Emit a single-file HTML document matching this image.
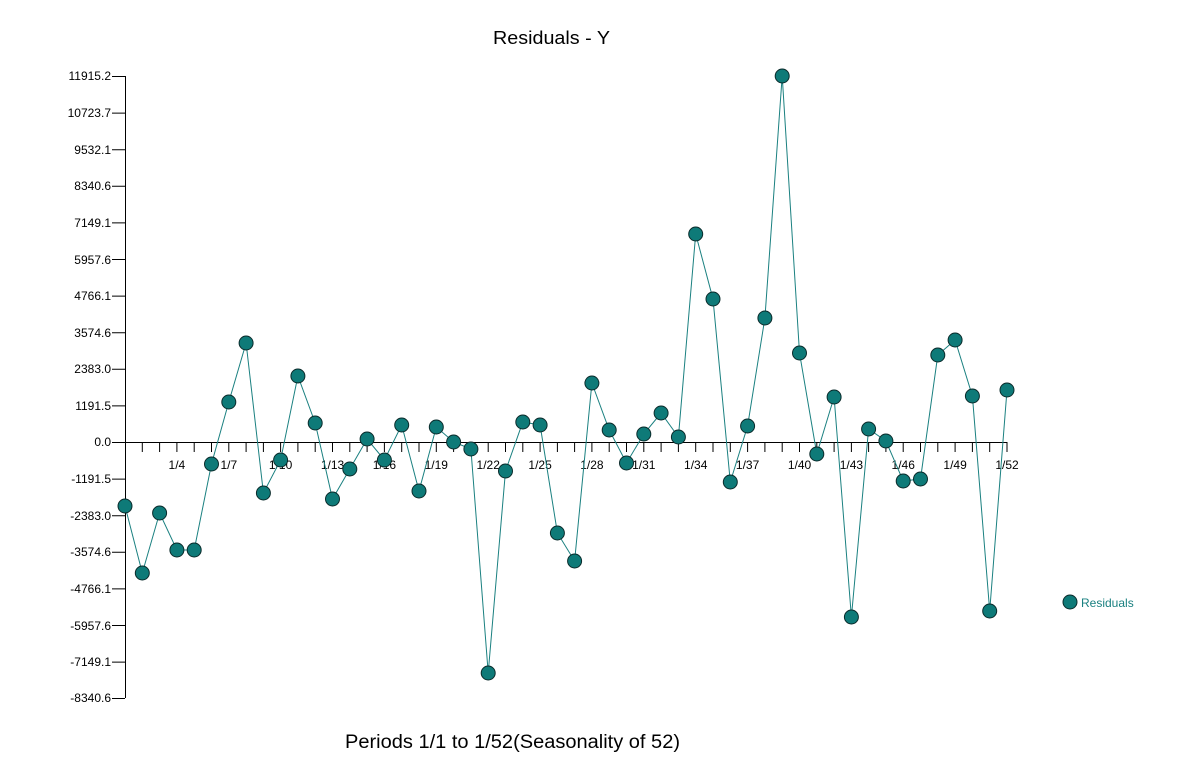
<!DOCTYPE html>
<html><head><meta charset="utf-8"><style>
html,body{margin:0;padding:0;background:#fff;}
svg{display:block;font-family:"Liberation Sans",Arial,sans-serif;}
</style></head><body>
<svg width="1202" height="775" viewBox="0 0 1202 775" xmlns="http://www.w3.org/2000/svg">
<rect width="1202" height="775" fill="#fff"/>
<text x="493" y="44" font-size="18" textLength="117" lengthAdjust="spacingAndGlyphs" fill="#000">Residuals - Y</text>
<text x="345" y="748" font-size="19" textLength="335" lengthAdjust="spacingAndGlyphs" fill="#000">Periods 1/1 to 1/52(Seasonality of 52)</text>
<g stroke="#000" stroke-width="1" fill="none">
<line x1="125.5" y1="76" x2="125.5" y2="698"/>
<line x1="125" y1="442.5" x2="1007" y2="442.5"/>
<path d="M112 76.5H125M112 113.1H125M112 149.7H125M112 186.3H125M112 222.9H125M112 259.5H125M112 296.1H125M112 332.7H125M112 369.3H125M112 405.9H125M112 442.5H125M112 479.1H125M112 515.7H125M112 552.3H125M112 588.9H125M112 625.5H125M112 662.1H125M112 698.5H125"/>
<path d="M142.3 442V452M159.6 442V452M176.9 442V452M194.2 442V452M211.5 442V452M228.8 442V452M246.1 442V452M263.4 442V452M280.6 442V452M297.9 442V452M315.2 442V452M332.5 442V452M349.8 442V452M367.1 442V452M384.4 442V452M401.7 442V452M419 442V452M436.3 442V452M453.6 442V452M470.9 442V452M488.2 442V452M505.5 442V452M522.8 442V452M540.1 442V452M557.4 442V452M574.6 442V452M591.9 442V452M609.2 442V452M626.5 442V452M643.8 442V452M661.1 442V452M678.4 442V452M695.7 442V452M713 442V452M730.3 442V452M747.6 442V452M764.9 442V452M782.2 442V452M799.5 442V452M816.8 442V452M834.1 442V452M851.4 442V452M868.6 442V452M885.9 442V452M903.2 442V452M920.5 442V452M937.8 442V452M955.1 442V452M972.4 442V452M989.7 442V452M1007 442V452"/>
</g>
<g font-size="12" fill="#000" text-anchor="end">
<text x="111" y="80">11915.2</text>
<text x="111" y="117">10723.7</text>
<text x="111" y="154">9532.1</text>
<text x="111" y="190">8340.6</text>
<text x="111" y="227">7149.1</text>
<text x="111" y="264">5957.6</text>
<text x="111" y="300">4766.1</text>
<text x="111" y="337">3574.6</text>
<text x="111" y="373">2383.0</text>
<text x="111" y="410">1191.5</text>
<text x="111" y="446">0.0</text>
<text x="111" y="483">-1191.5</text>
<text x="111" y="520">-2383.0</text>
<text x="111" y="556">-3574.6</text>
<text x="111" y="593">-4766.1</text>
<text x="111" y="630">-5957.6</text>
<text x="111" y="666">-7149.1</text>
<text x="111" y="702">-8340.6</text>
</g>
<g font-size="12" fill="#000" text-anchor="middle">
<text x="176.9" y="469">1/4</text>
<text x="228.8" y="469">1/7</text>
<text x="280.6" y="469">1/10</text>
<text x="332.5" y="469">1/13</text>
<text x="384.4" y="469">1/16</text>
<text x="436.3" y="469">1/19</text>
<text x="488.2" y="469">1/22</text>
<text x="540.1" y="469">1/25</text>
<text x="591.9" y="469">1/28</text>
<text x="643.8" y="469">1/31</text>
<text x="695.7" y="469">1/34</text>
<text x="747.6" y="469">1/37</text>
<text x="799.5" y="469">1/40</text>
<text x="851.4" y="469">1/43</text>
<text x="903.2" y="469">1/46</text>
<text x="955.1" y="469">1/49</text>
<text x="1007" y="469">1/52</text>
</g>
<polyline fill="none" stroke="#1a8080" stroke-width="1" points="125,506 142.3,573 159.6,513 176.9,550 194.2,550 211.5,464 228.8,402 246.1,343 263.4,493 280.6,460 297.9,376 315.2,423 332.5,499 349.8,469 367.1,439 384.4,460 401.7,425 419,491 436.3,427 453.6,442 470.9,449 488.2,673 505.5,471 522.8,422 540.1,425 557.4,533 574.6,561 591.9,383 609.2,430 626.5,463 643.8,434 661.1,413 678.4,437 695.7,234 713,299 730.3,482 747.6,426 764.9,318 782.2,76 799.5,353 816.8,454 834.1,397 851.4,617 868.6,429 885.9,441 903.2,481 920.5,479 937.8,355 955.1,340 972.4,396 989.7,611 1007,390"/>
<g fill="#0e7a78" stroke="#0a2a2a" stroke-width="1">
<circle cx="125" cy="506" r="7"/><circle cx="142.3" cy="573" r="7"/><circle cx="159.6" cy="513" r="7"/><circle cx="176.9" cy="550" r="7"/><circle cx="194.2" cy="550" r="7"/><circle cx="211.5" cy="464" r="7"/><circle cx="228.8" cy="402" r="7"/><circle cx="246.1" cy="343" r="7"/><circle cx="263.4" cy="493" r="7"/><circle cx="280.6" cy="460" r="7"/><circle cx="297.9" cy="376" r="7"/><circle cx="315.2" cy="423" r="7"/><circle cx="332.5" cy="499" r="7"/><circle cx="349.8" cy="469" r="7"/><circle cx="367.1" cy="439" r="7"/><circle cx="384.4" cy="460" r="7"/><circle cx="401.7" cy="425" r="7"/><circle cx="419" cy="491" r="7"/><circle cx="436.3" cy="427" r="7"/><circle cx="453.6" cy="442" r="7"/><circle cx="470.9" cy="449" r="7"/><circle cx="488.2" cy="673" r="7"/><circle cx="505.5" cy="471" r="7"/><circle cx="522.8" cy="422" r="7"/><circle cx="540.1" cy="425" r="7"/><circle cx="557.4" cy="533" r="7"/><circle cx="574.6" cy="561" r="7"/><circle cx="591.9" cy="383" r="7"/><circle cx="609.2" cy="430" r="7"/><circle cx="626.5" cy="463" r="7"/><circle cx="643.8" cy="434" r="7"/><circle cx="661.1" cy="413" r="7"/><circle cx="678.4" cy="437" r="7"/><circle cx="695.7" cy="234" r="7"/><circle cx="713" cy="299" r="7"/><circle cx="730.3" cy="482" r="7"/><circle cx="747.6" cy="426" r="7"/><circle cx="764.9" cy="318" r="7"/><circle cx="782.2" cy="76" r="7"/><circle cx="799.5" cy="353" r="7"/><circle cx="816.8" cy="454" r="7"/><circle cx="834.1" cy="397" r="7"/><circle cx="851.4" cy="617" r="7"/><circle cx="868.6" cy="429" r="7"/><circle cx="885.9" cy="441" r="7"/><circle cx="903.2" cy="481" r="7"/><circle cx="920.5" cy="479" r="7"/><circle cx="937.8" cy="355" r="7"/><circle cx="955.1" cy="340" r="7"/><circle cx="972.4" cy="396" r="7"/><circle cx="989.7" cy="611" r="7"/><circle cx="1007" cy="390" r="7"/>
<circle cx="1070" cy="602" r="7"/>
</g>
<text x="1081" y="607" font-size="12" fill="#1a8080">Residuals</text>
</svg>
</body></html>
